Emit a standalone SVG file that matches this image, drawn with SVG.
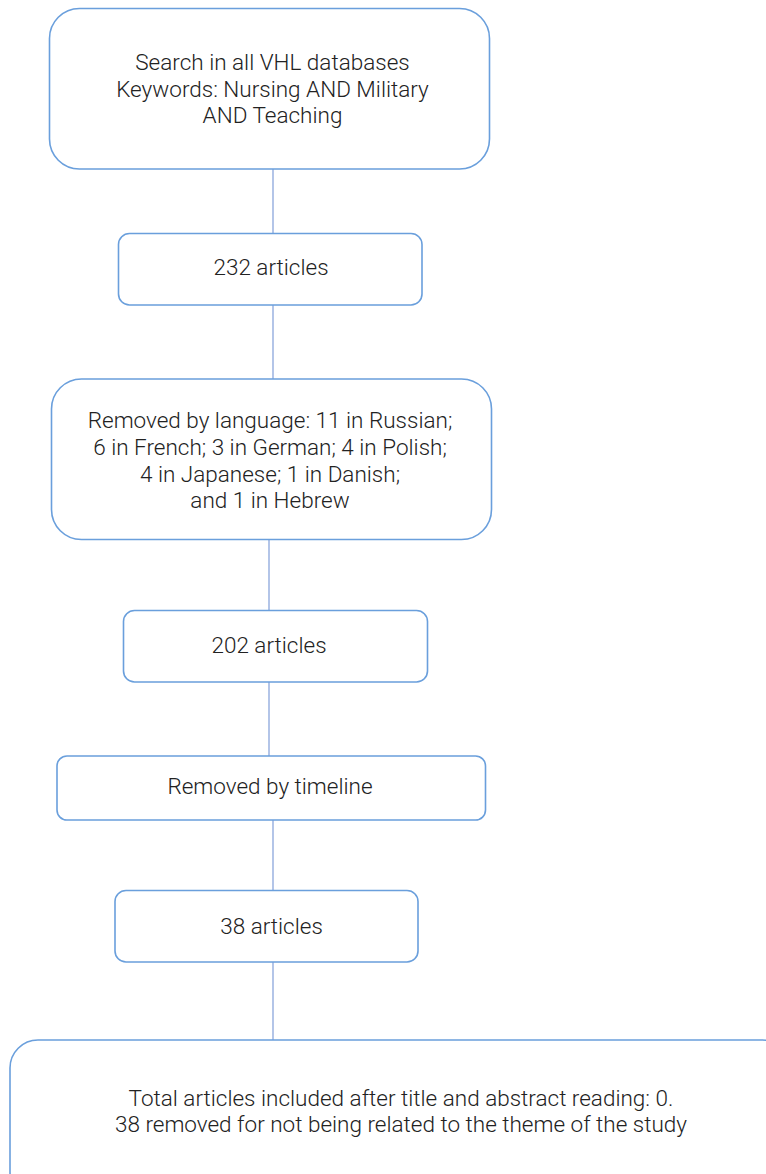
<svg xmlns="http://www.w3.org/2000/svg" width="766" height="1174" viewBox="0 0 766 1174">
<style>
.box{fill:#fff;stroke:#6a9fdc;stroke-width:1.6}
.t{font-family:Roboto,"Liberation Sans",sans-serif;font-weight:300;font-size:22.5px;fill:#222;text-anchor:middle}
.c{stroke:#8ba6dc;stroke-width:1.3;fill:none}
</style>
<rect width="766" height="1174" fill="#fff"/>
<g id="connectors">
<line class="c" x1="273" y1="169" x2="273" y2="233"/>
<line class="c" x1="273" y1="305" x2="273" y2="379"/>
<line class="c" x1="269" y1="540" x2="269" y2="610"/>
<line class="c" x1="269" y1="682" x2="269" y2="756"/>
<line class="c" x1="273" y1="820" x2="273" y2="890"/>
<line class="c" x1="273" y1="962" x2="273" y2="1040"/>
</g>
<g id="n1">
<rect class="box" x="49.5" y="8.5" width="440" height="160.5" rx="30"/>
<text class="t" x="272.5" y="70">Search in all VHL databases</text>
<text class="t" x="272.5" y="97">Keywords: Nursing AND Military</text>
<text class="t" x="272.5" y="123">AND Teaching</text>
</g>
<g id="n2">
<rect class="box" x="118.5" y="233.5" width="303.5" height="71.5" rx="11"/>
<text class="t" x="271" y="275">232 articles</text>
</g>
<g id="n3">
<rect class="box" x="51.5" y="379" width="440" height="160.5" rx="30"/>
<text class="t" x="270" y="428">Removed by language: 11 in Russian;</text>
<text class="t" x="270" y="455">6 in French; 3 in German; 4 in Polish;</text>
<text class="t" x="270" y="482">4 in Japanese; 1 in Danish;</text>
<text class="t" x="270" y="508">and 1 in Hebrew</text>
</g>
<g id="n4">
<rect class="box" x="123.5" y="610.5" width="304" height="71.5" rx="11"/>
<text class="t" x="269" y="653">202 articles</text>
</g>
<g id="n5">
<rect class="box" x="57" y="756" width="428.5" height="64" rx="10"/>
<text class="t" x="270" y="794">Removed by timeline</text>
</g>
<g id="n6">
<rect class="box" x="115" y="890.5" width="303" height="71.5" rx="11"/>
<text class="t" x="271.5" y="934">38 articles</text>
</g>
<g id="n7">
<rect class="box" x="10" y="1040" width="780" height="160" rx="28"/>
<text class="t" x="401" y="1106">Total articles included after title and abstract reading: 0.</text>
<text class="t" x="401" y="1132">38 removed for not being related to the theme of the study</text>
</g>
</svg>
